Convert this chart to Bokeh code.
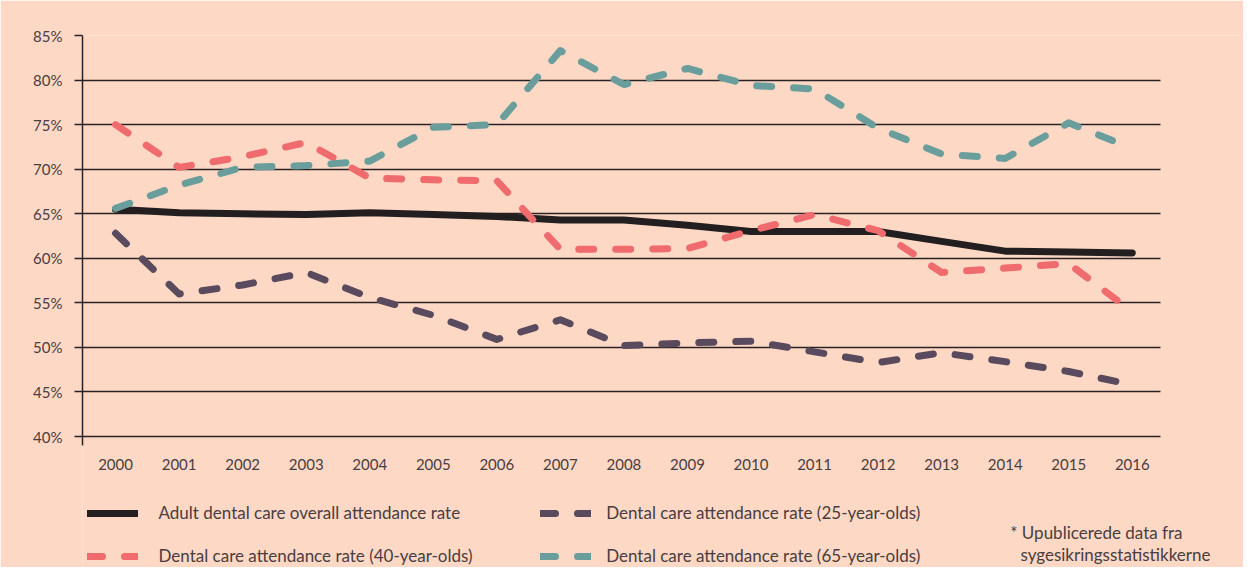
from bokeh.plotting import figure
from bokeh.models import FixedTicker, PrintfTickFormatter, Legend, LegendItem, Label, Range1d
from bokeh.embed import file_html
from bokeh.resources import INLINE

# ---- data ----
years = list(range(2000, 2017))
overall = [65.5, 65.1, 65.0, 64.9, 65.1, 64.9, 64.7, 64.3, 64.3, 63.7, 63.0, 63.0, 63.0, 61.9, 60.8, 60.7, 60.6]
age25 = [62.8, 56.0, 57.0, 58.4, 55.6, 53.6, 50.9, 53.1, 50.2, 50.5, 50.7, 49.5, 48.3, 49.4, 48.4, 47.3, 45.8]
age40 = [75.0, 70.2, 71.4, 73.0, 69.0, 68.8, 68.7, 61.0, 61.0, 61.1, 63.1, 64.9, 63.1, 58.4, 58.9, 59.4, 54.0]
age65 = [65.6, 68.2, 70.2, 70.4, 70.9, 74.7, 75.0, 83.3, 79.5, 81.3, 79.4, 79.0, 74.6, 71.7, 71.2, 75.2, 72.3]
yticks = [40, 45, 50, 55, 60, 65, 70, 75, 80, 85]
labels = [
    "Adult dental care overall attendance rate",
    "Dental care attendance rate (40-year-olds)",
    "Dental care attendance rate (25-year-olds)",
    "Dental care attendance rate (65-year-olds)",
]
note_lines = ["* Upublicerede data fra", "sygesikringsstatistikkerne"]

# ---- style ----
BG = "#FCD8C5"
TXT = "#4A3D40"
AX = "#2A2224"
C_ALL = "#231F20"
C_25 = "#594A5E"
C_40 = "#F06B6E"
C_65 = "#6A9E9D"
FONT = "Lato"
FS = "15px"
FS_LEG = "17px"

X0, X1 = 1999.48, 2016.44      # visible chart extent (grid lines)
Y0, Y1 = 38.99, 85.0            # visible chart extent (y axis line)

p = figure(width=1243, height=567, output_backend="svg", toolbar_location=None, title=None,
           x_range=Range1d(X0, 2017.75), y_range=Range1d(25.30, Y1),
           min_border_left=82, min_border_right=0, min_border_top=35, min_border_bottom=0,
           background_fill_color=BG, border_fill_color=BG, outline_line_color=None)

# axes
p.xaxis.ticker = FixedTicker(ticks=years)
p.xaxis.formatter = PrintfTickFormatter(format="%d")
p.xaxis.fixed_location = Y0
p.xaxis.axis_line_color = None
p.xaxis.major_tick_line_color = None
p.xaxis.minor_tick_line_color = None
p.xaxis.major_label_text_font = FONT
p.xaxis.major_label_text_font_size = FS
p.xaxis.major_label_text_color = TXT
p.xaxis.major_label_standoff = 7
p.xgrid.grid_line_color = None

p.yaxis.ticker = FixedTicker(ticks=yticks)
p.yaxis.formatter = PrintfTickFormatter(format="%d%%")
p.yaxis.bounds = (Y0, Y1)
p.yaxis.axis_line_color = AX
p.yaxis.axis_line_width = 1.5
p.yaxis.major_tick_in = 0
p.yaxis.major_tick_out = 8
p.yaxis.major_tick_line_color = AX
p.yaxis.major_tick_line_width = 1.5
p.yaxis.minor_tick_line_color = None
p.yaxis.major_label_text_font = FONT
p.yaxis.major_label_text_font_size = FS
p.yaxis.major_label_text_color = TXT
p.yaxis.major_label_standoff = 12

yg = p.ygrid[0]
yg.ticker = FixedTicker(ticks=yticks)
if "cross_bounds" in yg.properties():
    yg.cross_bounds = (X0, X1)
    yg.grid_line_color = AX
    yg.grid_line_width = 1.3
else:
    yg.grid_line_color = None
    p.segment(x0=[X0] * len(yticks), x1=[X1] * len(yticks), y0=yticks, y1=yticks,
              line_color=AX, line_width=1.3)

# lines
common = dict(line_width=7, line_cap="round", line_join="round")
r_all = p.line(years, overall, line_color=C_ALL, **common)
r25 = p.line(years, age25, line_color=C_25, line_dash="15 22", **common)
r40 = p.line(years, age40, line_color=C_40, line_dash="15 22", **common)
r65 = p.line(years, age65, line_color=C_65, line_dash="15 22", **common)

leg_style = dict(orientation="vertical", glyph_width=51, glyph_height=20, label_height=20,
                 spacing=22, padding=0, margin=0,
                 border_line_color=None, background_fill_alpha=0,
                 label_text_font=FONT, label_text_font_size=FS_LEG, label_text_color=TXT)
leg1 = Legend(items=[LegendItem(label=labels[0], renderers=[r_all]),
                     LegendItem(label=labels[1], renderers=[r40])],
              location=(4.5, 0.8), label_standoff=21, **leg_style)
leg2 = Legend(items=[LegendItem(label=labels[2], renderers=[r25]),
                     LegendItem(label=labels[3], renderers=[r65])],
              location=(458.2, 0.8), label_standoff=15, **leg_style)
p.add_layout(leg1)
p.add_layout(leg2)

p.add_layout(Label(x=2014.08, y=29.23, text=note_lines[0], text_font=FONT, text_font_size=FS_LEG,
                   text_color=TXT, text_baseline="middle"))
p.add_layout(Label(x=2014.24, y=26.76, text=note_lines[1], text_font=FONT, text_font_size=FS_LEG,
                   text_color=TXT, text_baseline="middle"))

open("out.html", "w").write(file_html(p, INLINE))
